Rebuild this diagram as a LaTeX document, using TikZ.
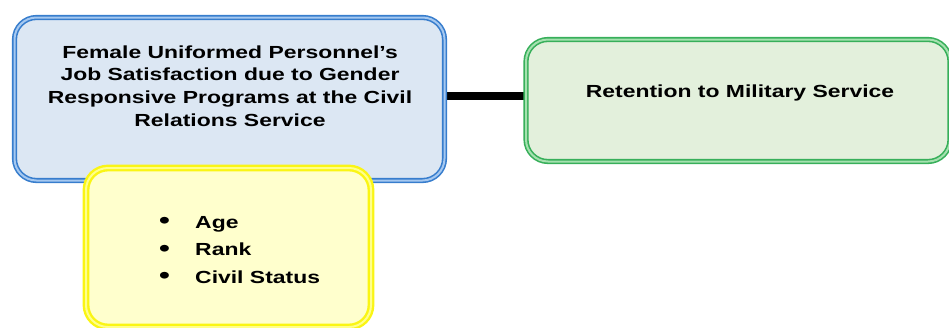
\documentclass[tikz,border=0pt]{standalone}
\usepackage{fontspec}
\setmainfont{Liberation Sans}[FakeStretch=1.31]
\usetikzlibrary{backgrounds}
\definecolor{bluefill}{RGB}{220,231,243}
\definecolor{blueline}{RGB}{55,125,205}
\definecolor{bluelight}{RGB}{165,200,240}
\definecolor{greenfill}{RGB}{227,240,220}
\definecolor{greenline}{RGB}{55,175,90}
\definecolor{greenlight}{RGB}{165,225,175}
\definecolor{yellowfill}{RGB}{255,255,205}
\definecolor{yellowline}{RGB}{250,245,20}
\definecolor{yellowlight}{RGB}{255,255,140}
\newcommand{\bigbul}{\makebox[38pt][l]{\hspace{2pt}\raisebox{-0.5pt}{\scalebox{1.35}{•}}}}
\tikzset{
  box/.style={rounded corners=22pt, line width=1.6pt, double distance=2pt, inner sep=0pt},
  bluebox/.style={box, draw=blueline, double=bluelight, fill=bluefill},
  greenbox/.style={box, draw=greenline, double=greenlight, fill=greenfill},
  yellowbox/.style={box, draw=yellowline, double=yellowlight, fill=yellowfill, line width=2.4pt},
  txt/.style={font=\fontsize{17.5pt}{22.7pt}\selectfont\bfseries, align=center, inner sep=0pt},
  conn/.style={line width=8pt, black}
}
\begin{document}
\begin{tikzpicture}[x=1pt,y=-1pt]
\useasboundingbox (0,0) rectangle (949,327);
\node[bluebox, minimum width=430pt, minimum height=163pt] (blue) at (229.5,99) {};
\node[greenbox, minimum width=424pt, minimum height=122pt] (green) at (738,100.5) {};
\node[txt] (bluetext) at (230,86) {Female Uniformed Personnel’s\\Job Satisfaction due to Gender\\Responsive Programs at the Civil\\Relations Service};
\node[txt] (greentext) at (740,93) {Retention to Military Service};
\node[yellowbox, minimum width=285pt, minimum height=159pt] (yellow) at (228.5,247.5) {};
\node[txt, align=left, anchor=west, font=\fontsize{17.5pt}{27.5pt}\selectfont\bfseries] (list) at (157,250)
  {\bigbul Age\\\bigbul Rank\\\bigbul Civil Status};
\begin{scope}[on background layer]
\draw[conn] ([yshift=3pt]blue.east) -- ([yshift=4.5pt]green.west);
\end{scope}
\end{tikzpicture}
\end{document}
